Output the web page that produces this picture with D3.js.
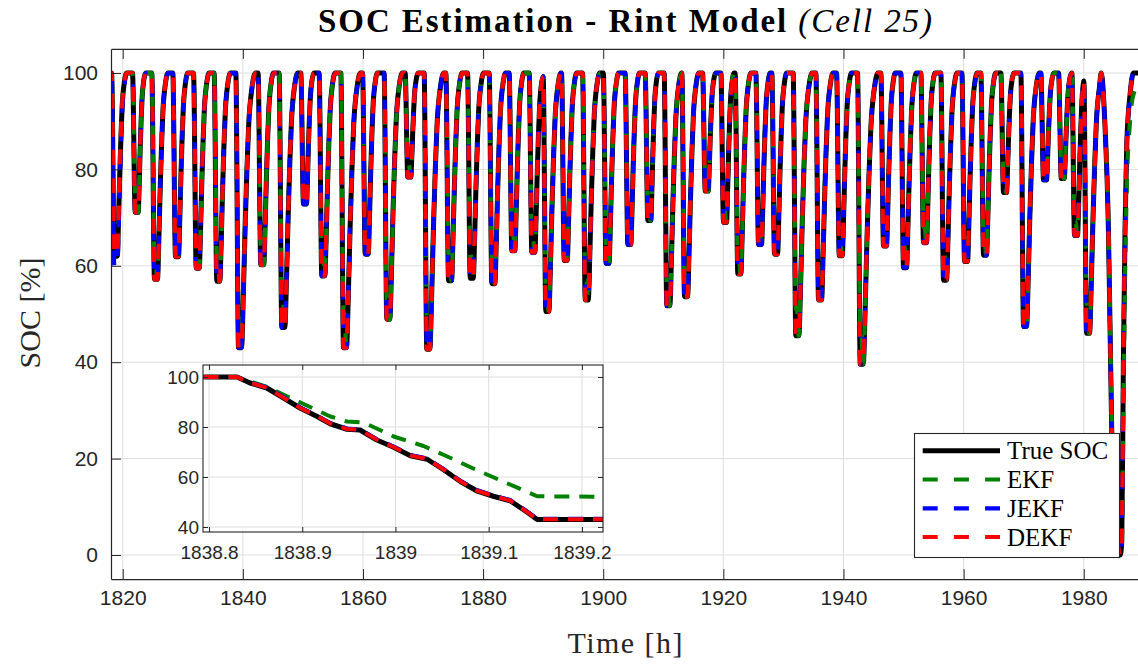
<!DOCTYPE html>
<html>
<head>
<meta charset="utf-8">
<script src="https://cdn.jsdelivr.net/npm/d3@7"></script>
<style>
  body { margin: 0; background: #fff; }
</style>
</head>
<body>
<svg id="chart" width="1138" height="666"></svg>
<script>
// ---------------- DATA ----------------
// Main plot: time of each discharge trough [h] and the SOC reached there [%]
const troughTime = [1818.85, 1822.33, 1825.54, 1829.04, 1832.49, 1835.92, 1839.53, 1843.24, 1846.74, 1850.35,
  1853.40, 1857.01, 1860.63, 1864.22, 1867.72, 1870.88, 1874.50, 1878.11, 1881.71, 1885.04,
  1888.37, 1890.70, 1893.76, 1897.26, 1900.72, 1904.35, 1907.68, 1910.84, 1913.79, 1917.24,
  1920.28, 1922.66, 1926.11, 1928.77, 1932.32, 1936.10, 1939.55, 1943.04, 1946.92, 1950.25,
  1953.58, 1956.91, 1960.41, 1963.57, 1966.90, 1970.23, 1973.56, 1976.51, 1978.72, 1980.72];
const trueMin = [62, 71.1, 57.2, 61.9, 59.5, 56.8, 43.0, 60.2, 47.2, 72.8,
  57.9, 43.0, 62.4, 48.9, 78.4, 42.7, 56.9, 57.4, 56.3, 63.1,
  62.8, 50.5, 61.1, 52.9, 60.5, 64.4, 69.4, 51.7, 53.6, 75.5,
  69.0, 58.3, 64.4, 62.4, 45.5, 52.9, 62.1, 39.6, 64.1, 59.6,
  64.8, 57.0, 60.9, 62.2, 75.2, 47.4, 77.8, 78.1, 66.3, 46.0];
// EKF lags at the end of each discharge (value where its descent stops)
const ekfMin = [65, 75, 61.5, 67, 64, 62, 52, 64, 53, 76,
  63, 50, 66, 53, 81, 49, 62, 62, 61, 67,
  66, 55, 65, 57, 64, 68, 72, 56, 58, 78,
  72, 62, 68, 66, 51, 57, 66, 47, 68, 64,
  68, 62, 65, 66, 78, 53, 80, 81, 69, 52];
// JEKF / DEKF trough values (track true SOC; JEKF starts low)
const jekfMin = [60, 71.1, 57.2, 61.9, 59.5, 56.8, 43.0, 60.2, 47.2, 72.8,
  57.9, 43.0, 62.4, 48.9, 78.4, 42.7, 56.9, 57.4, 56.3, 63.1,
  62.8, 50.5, 61.1, 52.9, 60.5, 64.4, 69.4, 51.7, 53.6, 75.5,
  69.0, 58.3, 64.4, 62.4, 45.5, 52.9, 62.1, 39.6, 64.1, 59.6,
  64.8, 57.0, 60.9, 62.2, 75.2, 47.4, 77.8, 78.1, 66.3, 46.0];
const dekfMin = [62.5, 71.1, 57.2, 61.9, 59.5, 56.8, 43.0, 60.2, 47.2, 72.8,
  57.9, 43.0, 62.4, 48.9, 78.4, 42.7, 56.9, 57.4, 56.3, 63.1,
  62.8, 50.5, 61.1, 52.9, 60.5, 64.4, 69.4, 51.7, 53.6, 75.5,
  69.0, 58.3, 64.4, 62.4, 45.5, 52.9, 62.1, 39.6, 64.1, 59.6,
  64.8, 57.0, 60.9, 62.2, 75.2, 47.4, 77.8, 78.1, 66.3, 46.0];
// Shape of one deep (~57 % deep) cycle:
// [hours relative to trough, fraction of the depth]
const descentShape = [[-0.7, 1], [-0.25, 0]];
const riseShape = [[0.25, 0], [0.55, 0.2], [0.83, 0.44], [1.12, 0.65], [1.4, 0.81], [1.95, 0.95], [2.5, 1]];
const refDepth = 55;   // recharge time shrinks for shallower cycles
// Final deep discharge and recharge at the right end
const finalTime = [1982.9, 1983.55, 1984.1, 1984.38, 1984.67, 1985.3, 1986.1, 1986.33, 1986.6, 1986.88, 1987.16, 1987.71, 1988.27, 1989.5];
const finalTrue = [100, 88.6, 67.9, 47.2, 25.2, 8, 0, 3, 40, 68, 85.2, 95.5, 100, 100];
const finalEkf  = [100, 89, 69, 49, 27, 9, 1, 2, 30, 58, 76, 90, 95.5, 98];

// Inset (zoom on one discharge)
const insetTime = [1838.794, 1838.830, 1838.844, 1838.862, 1838.880, 1838.898, 1838.916, 1838.930, 1838.948, 1838.962,
  1838.980, 1838.998, 1839.016, 1839.034, 1839.052, 1839.070, 1839.087, 1839.105, 1839.123, 1839.141, 1839.152, 1839.224];
const insetTrue = [100, 100, 97.6, 95.6, 91.6, 87.5, 84.2, 81.3, 79.1, 78.8,
  74.8, 71.9, 68.5, 67.1, 62.8, 58.1, 54.5, 52.3, 50.5, 46.0, 43.0, 43.0];
const insetJekf = [100, 100, 97.8, 95.9, 91.9, 87.8, 84.5, 81.6, 79.4, 79.0,
  75.1, 72.2, 68.8, 67.4, 63.1, 58.4, 54.8, 52.6, 50.8, 46.3, 43.3, 43.3];
const insetDekf = [100, 100, 97.7, 95.7, 91.7, 87.6, 84.3, 81.4, 79.2, 78.9,
  74.9, 72.0, 68.6, 67.2, 62.9, 58.2, 54.6, 52.4, 50.6, 46.1, 43.1, 43.1];
const insetEkfTime = [1838.794, 1838.830, 1838.862, 1838.898, 1838.930, 1838.948, 1838.966, 1838.998, 1839.030,
  1839.052, 1839.087, 1839.116, 1839.152, 1839.224];
const insetEkf = [100, 100, 96.0, 89.8, 84.2, 82.2, 81.8, 76.2, 72.4, 68.8, 62.8, 58.1, 52.3, 52.1];

// Ticks / labels
const xTicks = [1820, 1840, 1860, 1880, 1900, 1920, 1940, 1960, 1980];
const yTicks = [0, 20, 40, 60, 80, 100];
const insetXTicks = [1838.8, 1838.9, 1839.0, 1839.1, 1839.2];
const insetXTickLabels = ["1838.8", "1838.9", "1839", "1839.1", "1839.2"];
const insetYTicks = [40, 60, 80, 100];
const seriesNames = ["True SOC", "EKF", "JEKF", "DEKF"];
const seriesColors = ["#000000", "#008000", "#0000ff", "#ff0000"];

// ---------------- BUILD SERIES ----------------
const riseFrac = d3.scaleLinear().domain(riseShape.map(d => d[0])).range(riseShape.map(d => d[1])).clamp(true);
const r0 = riseShape[0][0];
function riseScale(depth) { return Math.max(0.55, Math.min(1.1, depth / refDepth)); }
function buildSeries(mins, riseMins, isEkf, fT, fV) {
  let pts = [[1817.0, 100]];
  troughTime.forEach((T, i) => {
    const m = mins[i], rm = riseMins[i];
    const start = T + descentShape[0][0];
    let v0 = 100;
    if (i > 0) {
      const pm = riseMins[i - 1];
      const k = riseScale(100 - pm);
      const rel = r0 + (start - troughTime[i - 1] - r0) / k;
      v0 = pm + riseFrac(rel) * (100 - pm);
      pts = pts.filter(p => p[0] < start);
    }
    pts.push([start, v0]);
    pts.push([T + descentShape[1][0], m]);
    if (isEkf) {
      pts.push([T - 0.05, m]);
      pts.push([T + 0.18, rm]);
    }
    const k = riseScale(100 - rm);
    riseShape.forEach(r => pts.push([T + r0 + (r[0] - r0) * k, rm + r[1] * (100 - rm)]));
  });
  pts = pts.filter(p => p[0] < fT[0]);
  fT.forEach((t, j) => pts.push([t, fV[j]]));
  return pts;
}
const sTrue = buildSeries(trueMin, trueMin, false, finalTime, finalTrue);
const sEkf = buildSeries(ekfMin, trueMin, true, finalTime, finalEkf);
const sJekf = buildSeries(jekfMin, jekfMin, false, finalTime, finalTrue);
const sDekf = buildSeries(dekfMin, dekfMin, false, finalTime, finalTrue);

// ---------------- DRAW ----------------
const svg = d3.select("#chart");
const axisCol = "#262626", gridCol = "#dedede";
const L = 111, R = 1139, Tp = 48.9, B = 579.1;
const x = d3.scaleLinear().domain([1818.05, 1989.2]).range([L, R]);
const y = d3.scaleLinear().domain([-5, 105]).range([B, Tp]);

svg.append("rect").attr("width", 1138).attr("height", 666).attr("fill", "#fff");
svg.append("defs").append("clipPath").attr("id", "clipMain")
  .append("rect").attr("x", L).attr("y", Tp).attr("width", R - L).attr("height", B - Tp);

// grid
const grid = svg.append("g");
grid.selectAll(".gx").data(xTicks).join("line")
  .attr("x1", d => x(d)).attr("x2", d => x(d)).attr("y1", Tp).attr("y2", B)
  .attr("stroke", gridCol).attr("stroke-width", 1);
grid.selectAll(".gy").data(yTicks).join("line")
  .attr("x1", L).attr("x2", R).attr("y1", d => y(d)).attr("y2", d => y(d))
  .attr("stroke", gridCol).attr("stroke-width", 1);

// lines
const line = d3.line().x(d => x(d[0])).y(d => y(d[1])).curve(d3.curveMonotoneX);
const plot = svg.append("g").attr("clip-path", "url(#clipMain)");
const mainSeries = [
  {data: sTrue, color: seriesColors[0], w: 5, dash: null},
  {data: sEkf, color: seriesColors[1], w: 4.2, dash: "15,14.2", off: 10},
  {data: sJekf, color: seriesColors[2], w: 4.2, dash: "15,13.6", off: 16},
  {data: sDekf, color: seriesColors[3], w: 4.2, dash: "15,13", off: 0}
];
mainSeries.forEach(s => {
  const p = plot.append("path").attr("d", line(s.data)).attr("fill", "none")
    .attr("stroke", s.color).attr("stroke-width", s.w).attr("stroke-linejoin", "round");
  if (s.dash) p.attr("stroke-dasharray", s.dash).attr("stroke-dashoffset", s.off);
});

// axes
const fontSans = "'Liberation Sans', Arial, Helvetica, sans-serif";
const fontSerif = "'Liberation Serif', 'Times New Roman', serif";
const xAxis = svg.append("g").attr("transform", `translate(0,${B})`)
  .call(d3.axisBottom(x).tickValues(xTicks).tickFormat(d3.format("d")).tickSizeInner(-10).tickSizeOuter(0).tickPadding(11));
const yAxis = svg.append("g").attr("transform", `translate(${L},0)`)
  .call(d3.axisLeft(y).tickValues(yTicks).tickFormat(d3.format("d")).tickSizeInner(-10).tickSizeOuter(0).tickPadding(13));
const xTop = svg.append("g").attr("transform", `translate(0,${Tp})`)
  .call(d3.axisTop(x).tickValues(xTicks).tickFormat("").tickSizeInner(-10).tickSizeOuter(0));
[xAxis, yAxis, xTop].forEach(a => {
  a.selectAll("path.domain").attr("stroke", axisCol).attr("stroke-width", 1.2);
  a.selectAll(".tick line").attr("stroke", axisCol);
  a.selectAll(".tick text").attr("fill", axisCol).style("font-family", fontSans).style("font-size", "21px");
});

// labels
const title = svg.append("text").attr("x", 625).attr("y", 32).attr("text-anchor", "middle")
  .attr("textLength", 614).attr("lengthAdjust", "spacing")
  .style("font-family", fontSerif).style("font-size", "33px").attr("fill", "#000");
title.append("tspan").style("font-weight", "bold").text("SOC Estimation - Rint Model ");
title.append("tspan").style("font-style", "italic").text("(Cell 25)");
svg.append("text").attr("x", 625).attr("y", 653).attr("text-anchor", "middle")
  .attr("textLength", 115).attr("lengthAdjust", "spacing").attr("fill", axisCol)
  .style("font-family", fontSerif).style("font-size", "30px").text("Time [h]");
svg.append("text").attr("transform", "translate(40,313) rotate(-90)").attr("text-anchor", "middle")
  .attr("fill", axisCol)
  .style("font-family", fontSerif).style("font-size", "30px").text("SOC [%]");

// ---------------- INSET ----------------
const iL = 203, iR = 603, iT = 365, iB = 532;
const xi = d3.scaleLinear().domain([1838.7935, 1839.2226]).range([iL, iR]);
const yi = d3.scaleLinear().domain([38, 104.8]).range([iB, iT]);
const gi = svg.append("g");
gi.append("rect").attr("x", iL).attr("y", iT).attr("width", iR - iL).attr("height", iB - iT).attr("fill", "#fff");
gi.append("defs").append("clipPath").attr("id", "clipInset")
  .append("rect").attr("x", iL).attr("y", iT).attr("width", iR - iL).attr("height", iB - iT);
gi.selectAll(".igx").data(insetXTicks).join("line")
  .attr("x1", d => xi(d)).attr("x2", d => xi(d)).attr("y1", iT).attr("y2", iB).attr("stroke", gridCol);
gi.selectAll(".igy").data(insetYTicks).join("line")
  .attr("x1", iL).attr("x2", iR).attr("y1", d => yi(d)).attr("y2", d => yi(d)).attr("stroke", gridCol);
const lineI = d3.line().x(d => xi(d[0])).y(d => yi(d[1]));
const ip = gi.append("g").attr("clip-path", "url(#clipInset)");
const insetSeries = [
  {t: insetTime, v: insetTrue, color: seriesColors[0], w: 5, dash: null},
  {t: insetEkfTime, v: insetEkf, color: seriesColors[1], w: 4, dash: "15,10"},
  {t: insetTime, v: insetJekf, color: seriesColors[2], w: 4, dash: "15,10"},
  {t: insetTime, v: insetDekf, color: seriesColors[3], w: 4, dash: "15,10"}
];
insetSeries.forEach(s => {
  const p = ip.append("path").attr("d", lineI(s.t.map((t, k) => [t, s.v[k]]))).attr("fill", "none")
    .attr("stroke", s.color).attr("stroke-width", s.w).attr("stroke-linejoin", "round");
  if (s.dash) p.attr("stroke-dasharray", s.dash);
});
gi.append("rect").attr("x", iL).attr("y", iT).attr("width", iR - iL).attr("height", iB - iT)
  .attr("fill", "none").attr("stroke", axisCol).attr("stroke-width", 1.1);
const ixA = gi.append("g").attr("transform", `translate(0,${iB})`)
  .call(d3.axisBottom(xi).tickValues(insetXTicks).tickFormat((d, k) => insetXTickLabels[k]).tickSizeInner(-5).tickSizeOuter(0).tickPadding(14));
const iyA = gi.append("g").attr("transform", `translate(${iL},0)`)
  .call(d3.axisLeft(yi).tickValues(insetYTicks).tickFormat(d3.format("d")).tickSizeInner(-5).tickSizeOuter(0).tickPadding(4));
const ixT = gi.append("g").attr("transform", `translate(0,${iT})`)
  .call(d3.axisTop(xi).tickValues(insetXTicks).tickFormat("").tickSizeInner(-5).tickSizeOuter(0));
const iyR = gi.append("g").attr("transform", `translate(${iR},0)`)
  .call(d3.axisRight(yi).tickValues(insetYTicks).tickFormat("").tickSizeInner(-5).tickSizeOuter(0));
[ixA, iyA, ixT, iyR].forEach(a => {
  a.selectAll("path.domain").remove();
  a.selectAll(".tick line").attr("stroke", axisCol);
  a.selectAll(".tick text").attr("fill", axisCol).style("font-family", fontSans).style("font-size", "19px");
});

// ---------------- LEGEND ----------------
const lg = svg.append("g");
lg.append("rect").attr("x", 914.5).attr("y", 433.5).attr("width", 205).attr("height", 124)
  .attr("fill", "#fff").attr("stroke", axisCol).attr("stroke-width", 1.1);
const legY = [450.7, 479.5, 508.3, 537];
seriesNames.forEach((name, k) => {
  const ln = lg.append("line").attr("x1", 922.7).attr("x2", 1000).attr("y1", legY[k]).attr("y2", legY[k])
    .attr("stroke", seriesColors[k]).attr("stroke-width", k === 0 ? 5 : 4.2);
  if (k > 0) ln.attr("stroke-dasharray", "15,16.2");
  lg.append("text").attr("x", 1007).attr("y", legY[k] + 8.5)
    .style("font-family", fontSerif).style("font-size", "25px").attr("fill", "#000").text(name);
});
</script>
</body>
</html>
